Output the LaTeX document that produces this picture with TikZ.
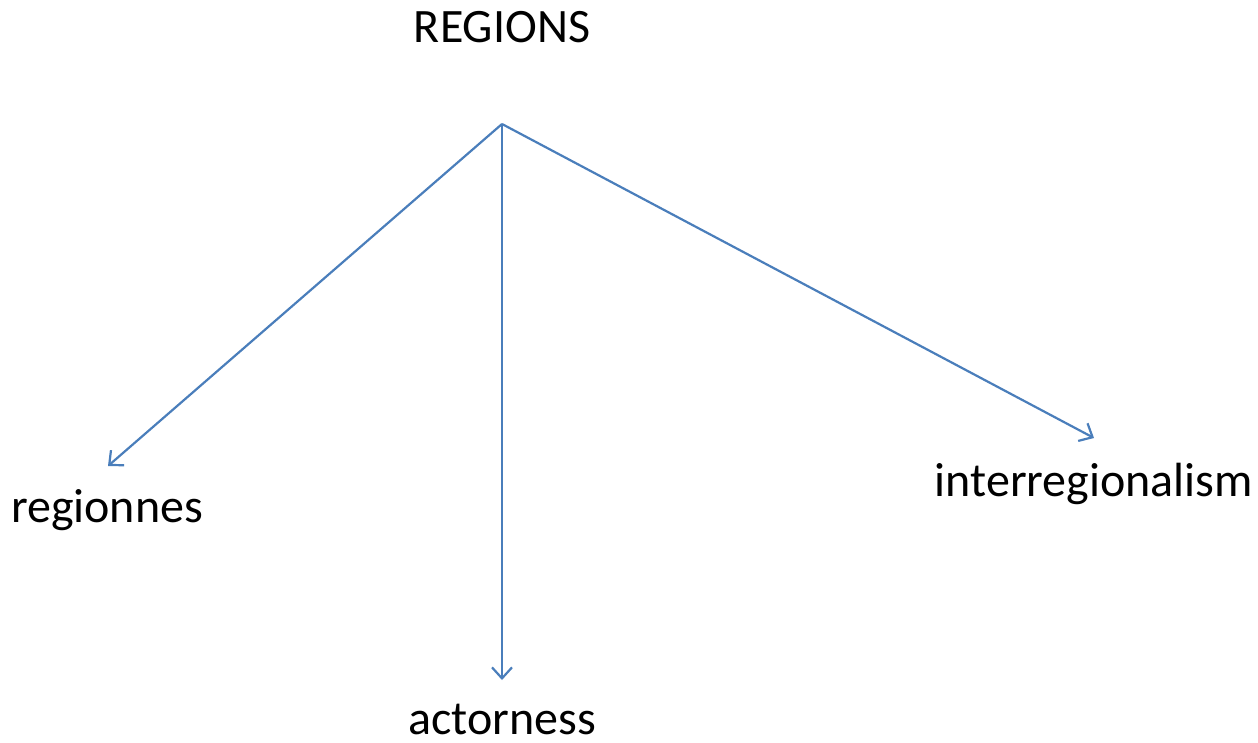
\documentclass[tikz,border=0pt]{standalone}
\usepackage{fontspec}
\setmainfont{Carlito}
\usetikzlibrary{arrows.meta}
\definecolor{lineblue}{HTML}{4A7EBB}
\begin{document}
\begin{tikzpicture}[x=1pt,y=-1pt,
  lbl/.style={font=\fontsize{48}{54}\selectfont, inner sep=0pt, text=black},
  conn/.style={draw=lineblue, line width=2.2pt, -{Straight Barb[length=11pt,width=20pt,line width=2.2pt]}}]
\useasboundingbox (0,0) rectangle (1258,742);
\node[lbl, anchor=base] (regions) at (502,42) {REGIONS};
\node[lbl, anchor=base] (regionnes) at (107,522) {regionnes};
\node[lbl, anchor=base] (actorness) at (502,734) {actorness};
\node[lbl, anchor=base] (inter) at (1094,496) {interregionalism};
\coordinate (hub) at (502,124);
\coordinate (t1) at (108,466);
\coordinate (t2) at (502,680);
\coordinate (t3) at (1094,438);
\draw[conn] (hub) -- (t1);
\draw[conn] (hub) -- (t2);
\draw[conn] (hub) -- (t3);
\end{tikzpicture}
\end{document}
